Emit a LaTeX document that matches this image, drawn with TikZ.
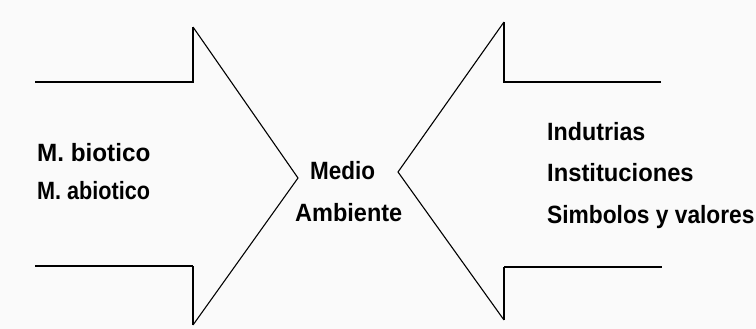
\documentclass[tikz,border=0pt]{standalone}
\usepackage{fontspec}
\setmainfont{Liberation Sans}
\definecolor{bgc}{HTML}{FAFAFA}
\begin{document}
\begin{tikzpicture}[x=1pt,y=-1pt,
  lbl/.style={anchor=base west,inner sep=0pt,font=\fontsize{25}{28}\selectfont\bfseries},
  shaft/.style={line width=2pt},
  head/.style={line width=1.1pt,line join=miter}]
\fill[bgc] (0,0) rectangle (756,329);
\useasboundingbox (0,0) rectangle (756,329);
% left arrow
\coordinate (la) at (35,82);
\coordinate (lb) at (193,82);
\coordinate (lc) at (193,27);
\coordinate (ltip) at (298,178);
\coordinate (ld) at (193,325);
\coordinate (le) at (193,266);
\coordinate (lf) at (35,266);
\draw[shaft] (la) -- (lb) -- (lc);
\draw[head] (lc) -- (ltip) -- (ld);
\draw[shaft] (ld) -- (le);
\draw[line width=2.6pt] (le) -- (lf);
% right arrow
\coordinate (ra) at (661,82);
\coordinate (rb) at (504,82);
\coordinate (rc) at (504,22);
\coordinate (rtip) at (398,172);
\coordinate (rd) at (504,320);
\coordinate (re) at (504,267);
\coordinate (rf) at (662,267);
\draw[shaft] (ra) -- (rb) -- (rc);
\draw[head] (rc) -- (rtip) -- (rd);
\draw[shaft] (rd) -- (re);
\draw[line width=2.6pt] (re) -- (rf);
% texts
\node[lbl,xscale=0.97] (t1) at (37,161) {M. biotico};
\node[lbl,xscale=0.865] (t2) at (37,199) {M. abiotico};
\node[lbl,xscale=0.9] (m1) at (310,179) {Medio};
\node[lbl,xscale=0.94] (m2) at (295,221) {Ambiente};
\node[lbl,xscale=0.93] (r1) at (547,141) {Indutrias};
\node[lbl,xscale=0.95] (r2) at (547,182) {Instituciones};
\node[lbl,xscale=0.91] (r3) at (547,223) {Simbolos y valores};
\end{tikzpicture}
\end{document}
